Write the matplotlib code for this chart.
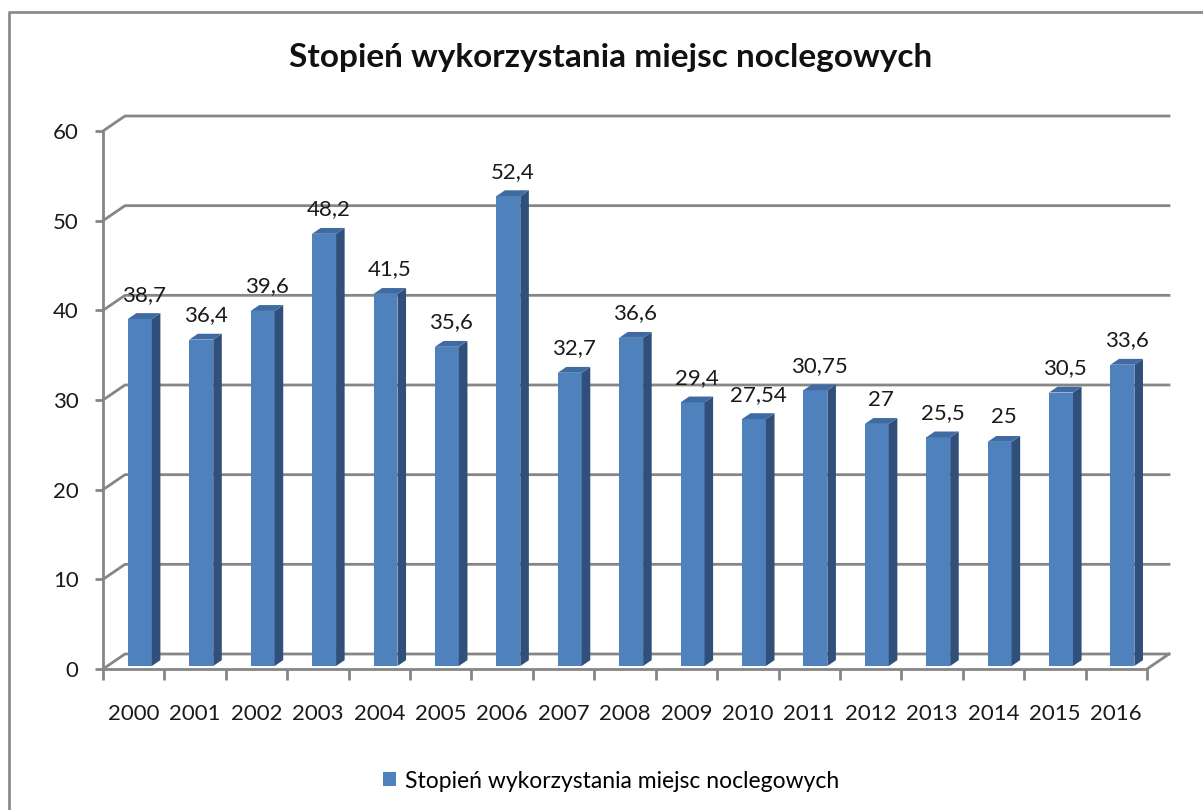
import numpy as np
import matplotlib.pyplot as plt
from matplotlib.patches import Polygon, Patch
from matplotlib.lines import Line2D

lata = ['2000', '2001', '2002', '2003', '2004', '2005', '2006', '2007', '2008',
        '2009', '2010', '2011', '2012', '2013', '2014', '2015', '2016']
wartosci = [38.7, 36.4, 39.6, 48.2, 41.5, 35.6, 52.4, 32.7, 36.6,
            29.4, 27.54, 30.75, 27, 25.5, 25, 30.5, 33.6]
tytul = 'Stopień wykorzystania miejsc noclegowych'
y_ticks = [0, 10, 20, 30, 40, 50, 60]

plt.rcParams['font.family'] = ['Lato', 'DejaVu Sans']

# parametry "3D"
DX = 0.358     # przesuniecie glebi w jednostkach kategorii
DY = 1.673     # przesuniecie glebi w jednostkach wartosci
F0, F1 = 0.2, 0.59
W = 0.39
OFF = 0.1
SZARY = '#868686'
C_FRONT = '#4F81BD'
C_SIDE = '#30507B'
C_TOP = '#3F6BA2'

fig = plt.figure(figsize=(12.03, 8.10), dpi=100)
ax = fig.add_axes([103/1203, 141/810, 1044/1203, 538/810])
n = len(lata)
ax.set_xlim(-0.5, n - 0.5)
ax.set_ylim(0, 60)

# siatka (tylna sciana + skos po lewej)
for v in y_ticks:
    ax.plot([-0.5, -0.5 + DX, n - 0.5 + DX], [v, v + DY, v + DY],
            color=SZARY, lw=2, clip_on=False, zorder=1)
ax.plot([n - 0.5, n - 0.5 + DX], [0, DY], color=SZARY, lw=2, clip_on=False, zorder=1)

# slupki
d = F1 - F0
for i, v in enumerate(wartosci):
    c = i + OFF
    x0, x1 = c - W/2, c + W/2
    y0, y1 = F0*DY, v + F0*DY
    ax.add_patch(Polygon([(x0, y0), (x1, y0), (x1, y1), (x0, y1)],
                         closed=True, fc=C_FRONT, ec='none', zorder=3, clip_on=False))
    ax.add_patch(Polygon([(x1, y0), (x1 + d*DX, y0 + d*DY), (x1 + d*DX, y1 + d*DY), (x1, y1)],
                         closed=True, fc=C_SIDE, ec='none', zorder=3, clip_on=False))
    ax.add_patch(Polygon([(x0, y1), (x1, y1), (x1 + d*DX, y1 + d*DY), (x0 + d*DX, y1 + d*DY)],
                         closed=True, fc=C_TOP, ec='none', zorder=3, clip_on=False))
    ax.annotate(f'{v:g}'.replace('.', ','), (c + d*DX/2, v + F1*DY),
                xytext=(0, 9), textcoords='offset points', ha='center', va='baseline',
                fontsize=16, color='#1a1a1a', zorder=4, annotation_clip=False)

for s in ['top', 'right']:
    ax.spines[s].set_visible(False)
for s in ['left', 'bottom']:
    ax.spines[s].set_color(SZARY)
    ax.spines[s].set_linewidth(2)
    ax.spines[s].set_zorder(2)

ax.set_yticks(y_ticks)
ax.tick_params(axis='y', colors=SZARY, length=6, width=2, pad=11.5, labelsize=16,
               labelcolor='#1a1a1a')
ax.set_xticks(np.arange(n + 1) - 0.5)
ax.set_xticklabels([])
ax.set_xticks(np.arange(n), minor=True)
ax.set_xticklabels(lata, minor=True)
ax.tick_params(axis='x', which='major', colors=SZARY, length=8, width=2)
ax.tick_params(axis='x', which='minor', length=0, pad=25, labelsize=16,
               labelcolor='#1a1a1a')
ax.set_facecolor('none')

fig.text(0.508, 1 - 57/810, tytul, ha='center', va='center', fontsize=24,
         fontweight='bold', color='#111111')

fig.legend(handles=[Patch(facecolor=C_FRONT, label=tytul)], loc='center',
           bbox_to_anchor=(0.508, 1 - 781/810), frameon=False, fontsize=16.5,
           handlelength=0.55, handleheight=0.55, handletextpad=0.4)

# ramka wykresu
fig.add_artist(Line2D([9/1203, 9/1203, 1], [0, 1 - 12/810, 1 - 12/810],
                      color='#8c8c8c', lw=2, transform=fig.transFigure))

fig.savefig('out.png', dpi=100)
